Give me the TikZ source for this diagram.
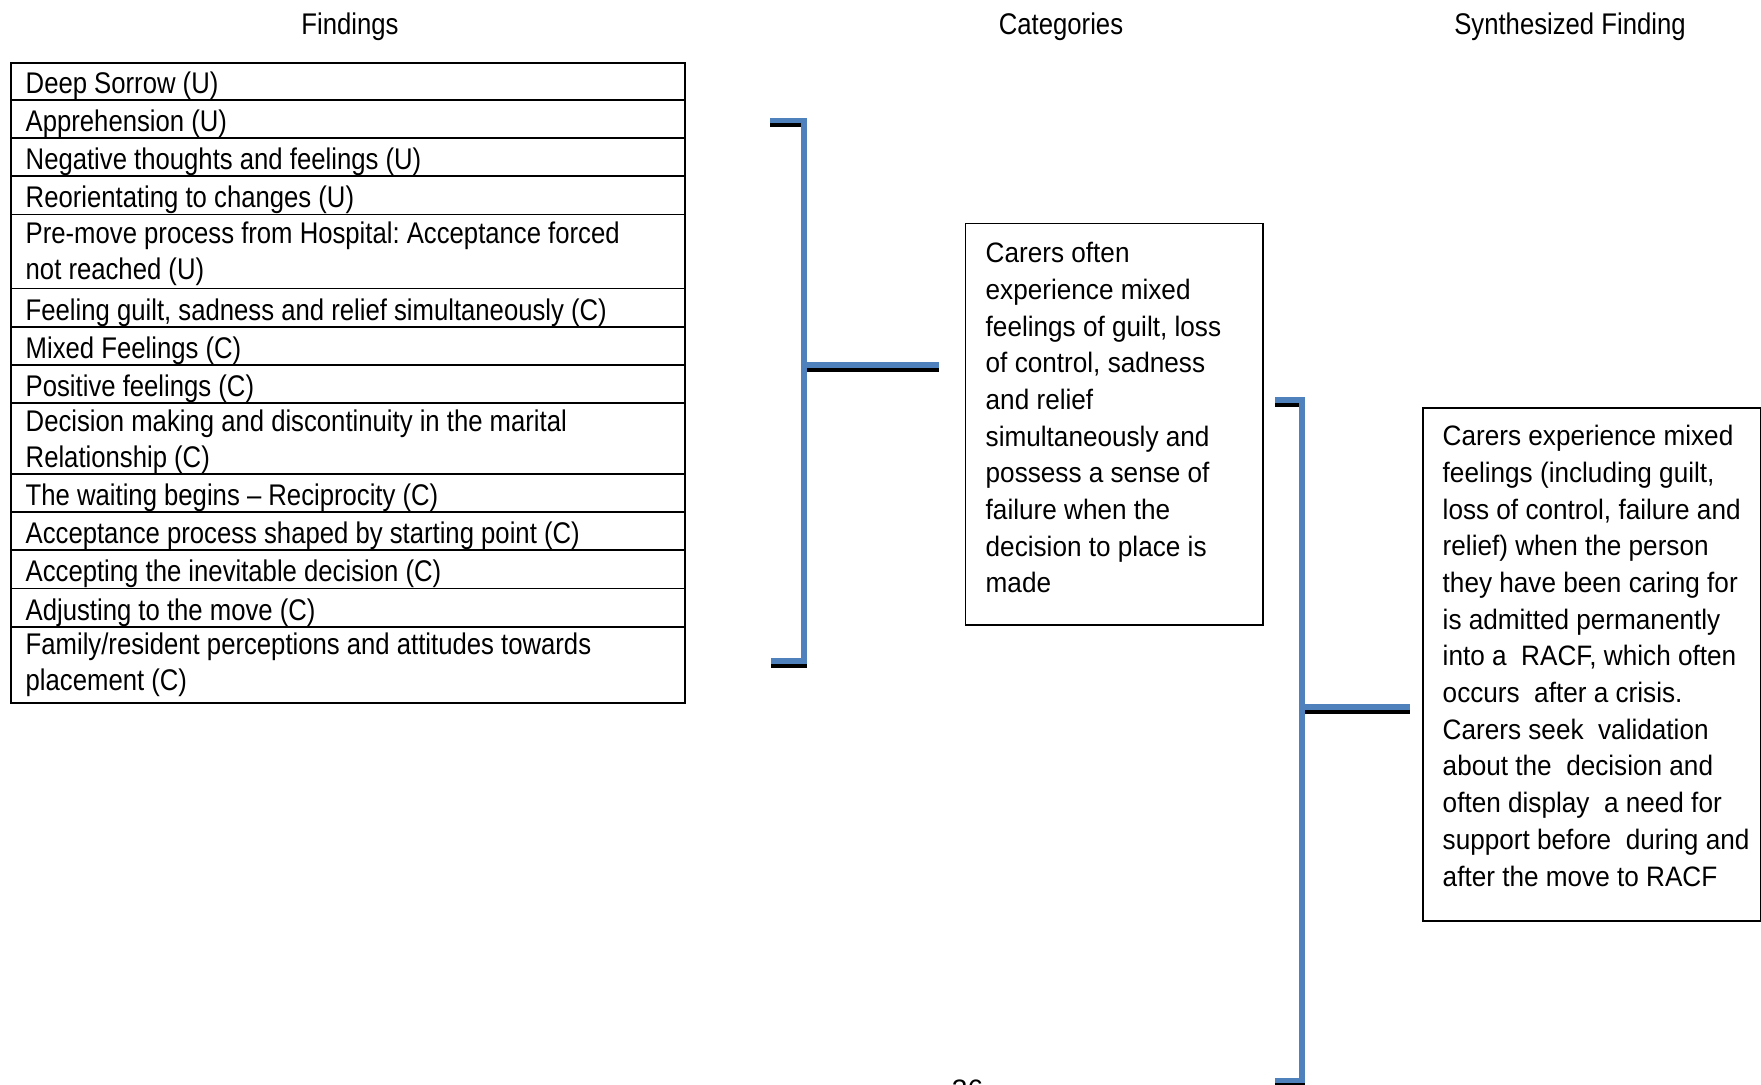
\documentclass[tikz,border=0pt]{standalone}
\usepackage{fontspec}
\setmainfont{Liberation Sans}
\newfontfamily\tblfont[FakeStretch=0.86]{Liberation Sans}
\newfontfamily\boxfont[FakeStretch=0.93]{Liberation Sans}
\definecolor{brblue}{RGB}{79,129,189}
\frenchspacing
\begin{document}
\begin{tikzpicture}[x=0.1mm,y=-0.1mm,
  hdr/.style={font=\tblfont\fontsize{8.5}{10.4}\selectfont, anchor=base, inner sep=0},
  cell/.style={font=\tblfont\fontsize{8.5}{10.2}\selectfont, anchor=base west, inner sep=0},
  boxline/.style={font=\boxfont\fontsize{8}{10.45}\selectfont, anchor=base west, inner sep=0},
  frame/.style={draw=black, line width=0.5pt},
  framebox/.style={frame, rectangle, anchor=north west, inner sep=0},
  brk/.style={draw=brblue, line width=0.55mm, line join=miter},
  brkshadow/.style={draw=black, line width=0.5mm, transform canvas={yshift=-0.45mm}}]
\useasboundingbox (0,0) rectangle (1761,1085);

% headers
\node[hdr] (h1) at (350,34.3) {Findings};
\node[hdr] (h2) at (1061,34.3) {Categories};
\node[hdr] (h3) at (1570,34.3) {Synthesized Finding};

% findings table
\node[framebox, minimum width=67.4mm, minimum height=64.02mm] (tbl) at (10,61.8) {};
\foreach \y in {100,138.1,176.3,214.5,288.6,326.8,365,403.2,474,512.1,550.3,588.5,626.7}
  \draw[frame] (tbl.west |- 0,\y) -- (tbl.east |- 0,\y);

\node[cell] (f1)  at (25,93.5)  {Deep Sorrow (U)};
\node[cell] (f2)  at (25,131.6) {Apprehension (U)};
\node[cell] (f3)  at (25,169.8) {Negative thoughts and feelings (U)};
\node[cell] (f4)  at (25,208)   {Reorientating to changes (U)};
\node[cell] (f5a) at (25,243.3) {Pre-move process from Hospital: Acceptance forced};
\node[cell] (f5b) at (25,279.3) {not reached (U)};
\node[cell] (f7)  at (25,320.3) {Feeling guilt, sadness and relief simultaneously (C)};
\node[cell] (f8)  at (25,358.5) {Mixed Feelings (C)};
\node[cell] (f9)  at (25,396.7) {Positive feelings (C)};
\node[cell] (f10a) at (25,432)  {Decision making and discontinuity in the marital};
\node[cell] (f10b) at (25,467.5) {Relationship (C)};
\node[cell] (f11) at (25,505.6) {The waiting begins – Reciprocity (C)};
\node[cell] (f12) at (25,543.8) {Acceptance process shaped by starting point (C)};
\node[cell] (f13) at (25,582)   {Accepting the inevitable decision (C)};
\node[cell] (f14) at (25,620.2) {Adjusting to the move (C)};
\node[cell] (f15a) at (25,655)  {Family/resident perceptions and attitudes towards};
\node[cell] (f15b) at (25,690.5) {placement (C)};

% category box
\node[framebox, minimum width=29.73mm, minimum height=40.17mm] (cat) at (964.7,222.7) {};
\foreach \t [count=\i] in {Carers often, experience mixed, {feelings of guilt, loss}, {of control, sadness}, and relief, simultaneously and, possess a sense of, failure when the, decision to place is, made}
  \node[boxline] (c\i) at (985,262.7+36.7*\i-36.7) {\t};

% synthesized box
\node[framebox, minimum width=33.77mm, minimum height=51.23mm] (syn) at (1421.8,407.5) {};
\foreach \t [count=\i] in {Carers experience mixed, {feelings (including guilt,}, {loss of control, failure and}, relief) when the person, they have been caring for, is admitted permanently, {into a\ \ RACF, which often}, occurs\ \ after a crisis., Carers seek\ \ validation, about the\ \ decision and, often display\ \ a need for, support before\ \ during and, after the move to RACF}
  \node[boxline] (s\i) at (1442,445.7+36.7*\i-36.7) {\t};

% bracket 1
\coordinate (a1) at (770,120.5);
\coordinate (a2) at (804,120.5);
\coordinate (a3) at (804,661);
\coordinate (a4) at (771,661);
\coordinate (am) at (804,365);
\coordinate (ae) at (939,365);
% bracket 2
\coordinate (b1) at (1275,400);
\coordinate (b2) at (1302,400);
\coordinate (b3) at (1302,1080.5);
\coordinate (b4) at (1275,1080.5);
\coordinate (bm) at (1302,707);
\coordinate (be) at (1410,707);

\draw[brkshadow] (a1) -- (a2) -- (a3) -- (a4);
\draw[brkshadow] (am) -- (ae);
\draw[brkshadow] (b1) -- (b2) -- (b3) -- (b4);
\draw[brkshadow] (bm) -- (be);
\draw[brk] (a1) -- (a2) -- (a3) -- (a4);
\draw[brk] (am) -- (ae);
\draw[brk] (b1) -- (b2) -- (b3) -- (b4);
\draw[brk] (bm) -- (be);

% page number (cut by the page edge)
\node[font=\fontsize{8}{10}\selectfont, anchor=base, inner sep=0] (pg) at (967.5,1100) {36};
\end{tikzpicture}
\end{document}
